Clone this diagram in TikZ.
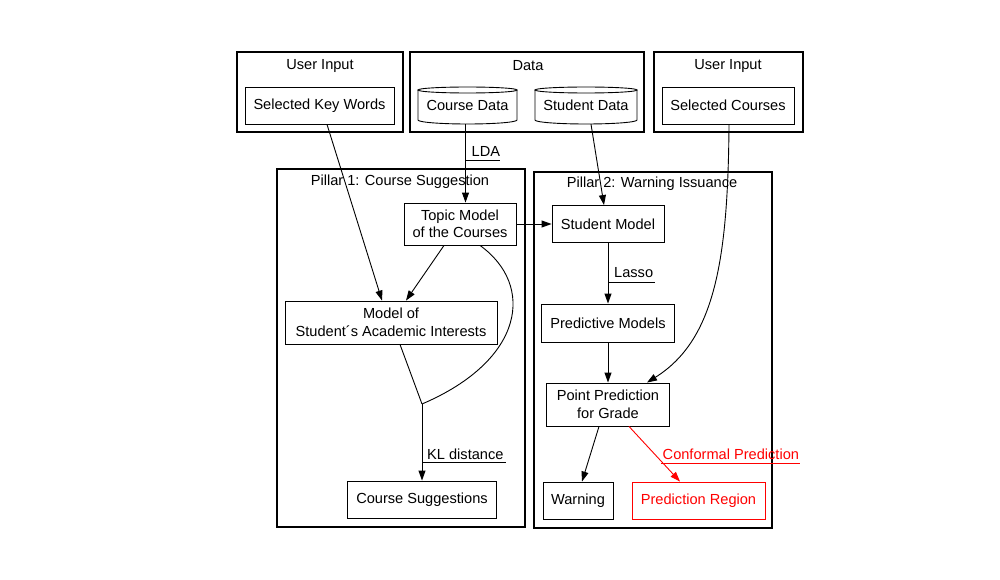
\documentclass[tikz,border=0pt]{standalone}
\usepackage{fontspec}
\setmainfont{Liberation Sans}
\usetikzlibrary{arrows.meta,calc}
\begin{document}
\begin{tikzpicture}[x=1pt,y=-1pt,
  every node/.style={font=\fontsize{14.6}{17.5}\selectfont},
  box/.style={draw, line width=0.9pt, inner sep=0pt, align=center},
  cylnode/.style={inner sep=0pt, align=center},
  cluster/.style={draw, line width=1.8pt},
  arr/.style={line width=0.9pt, -{Triangle[length=10pt,width=7pt]}},
  plain/.style={line width=0.9pt},
  lbl/.style={inner sep=0pt, anchor=west}]
\useasboundingbox (0,0) rectangle (1000,580);

% clusters
\draw[cluster] (237,52) rectangle (403,132);
\draw[cluster] (410,52) rectangle (644,132);
\draw[cluster] (654,52) rectangle (803,132);
\draw[cluster] (277,169) rectangle (525,527);
\draw[cluster] (534,172) rectangle (772,528);
\node (ui1lab) at (320,66) {User Input};
\node (datalab) at (528,66) {Data};
\node (ui2lab) at (728,66) {User Input};
\node (p1lab) at (400,182) {Pillar 1: Course Suggestion};
\node (p2lab) at (652,184) {Pillar 2: Warning Issuance};

% top nodes
\node[box, minimum width=149pt, minimum height=37pt] (kw) at (319.5,105.5) {Selected Key Words};
\node[cylnode, minimum width=99pt, minimum height=37pt] (cd) at (467.5,105.5) {Course Data};
\draw[plain] (418,90) -- (418,120) arc[start angle=180,end angle=360,x radius=49.5pt,y radius=4pt] -- (517,90);
\draw[plain] (467.5,90) ellipse [x radius=49.5pt, y radius=3pt];
\node[cylnode, minimum width=102pt, minimum height=37pt] (sd) at (586,105.5) {Student Data};
\draw[plain] (535,90) -- (535,120) arc[start angle=180,end angle=360,x radius=51pt,y radius=4pt] -- (637,90);
\draw[plain] (586,90) ellipse [x radius=51pt, y radius=3pt];
\node[box, minimum width=132pt, minimum height=37pt] (sc) at (728,105.5) {Selected Courses};

% pillar 1
\node[box, minimum width=112pt, minimum height=42pt] (tm) at (460,224) {Topic Model\\of the Courses};
\node[box, minimum width=212pt, minimum height=43pt] (mi) at (391,322.5) {Model of\\Student´s Academic Interests};
\node[box, minimum width=149pt, minimum height=37pt] (cs) at (422,499.5) {Course Suggestions};
\coordinate (j) at (422,404);

% pillar 2
\node[box, minimum width=112pt, minimum height=37pt] (sm) at (608,224) {Student Model};
\node[box, minimum width=133pt, minimum height=38pt] (pm) at (608,323) {Predictive Models};
\node[box, minimum width=123pt, minimum height=43pt] (pp) at (608,404.5) {Point Prediction\\for Grade};
\node[box, minimum width=70pt, minimum height=37pt] (wa) at (578,500.5) {Warning};
\node[box, draw=red, text=red, minimum width=133pt, minimum height=37pt] (pr) at (698.5,500.5) {Prediction Region};

% edges
\draw[arr] ([xshift=7.5pt]kw.south) -- ([xshift=-9pt]mi.north);
\draw[arr] ([xshift=-2pt]cd.south) -- ([xshift=5.5pt]tm.north);
\draw[arr] ([xshift=5pt]sd.south) -- ([xshift=-4pt]sm.north);
\draw[arr] ([xshift=1pt]sc.south) .. controls (728,260) and (715,340) .. ([xshift=39pt]pp.north);
\draw[arr] (tm.east) -- (sm.west);
\draw[arr] ([xshift=-16pt]tm.south) -- ([xshift=15pt]mi.north);
\draw[plain] ([xshift=20pt]tm.south) .. controls (535,285) and (525,360) .. (j);
\draw[plain] ([xshift=9pt]mi.south) -- (j);
\draw[arr] (j) -- (cs.north);
\draw[arr] (sm.south) -- (pm.north);
\draw[arr] (pm.south) -- (pp.north);
\draw[arr] ([xshift=-9pt]pp.south) -- ([xshift=4pt]wa.north);
\draw[arr, red] ([xshift=21pt]pp.south) -- ([xshift=-18.5pt]pr.north);

% edge labels
\node[lbl] (lda) at (471.5,151) {LDA};
\draw[plain] (465.5,160) -- (500,160);
\node[lbl] (kl) at (427,454) {KL distance};
\draw[plain] (j |- 0,462) -- (506,462);
\node[lbl] (lasso) at (614,273) {Lasso};
\draw[plain] (608,282) -- (655,282);
\node[lbl, text=red] (conf) at (662.5,454) {Conformal Prediction};
\draw[plain, red] (661,463) -- (800,463);
\end{tikzpicture}
\end{document}
